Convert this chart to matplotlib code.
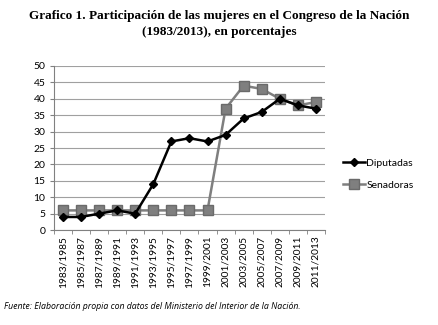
import numpy as np
import matplotlib.pyplot as plt

periodos = ["1983/1985", "1985/1987", "1987/1989", "1989/1991", "1991/1993",
            "1993/1995", "1995/1997", "1997/1999", "1999/2001", "2001/2003",
            "2003/2005", "2005/2007", "2007/2009", "2009/2011", "2011/2013"]
diputadas = [4, 4, 5, 6, 5, 14, 27, 28, 27, 29, 34, 36, 40, 38, 37]
senadoras = [6, 6, 6, 6, 6, 6, 6, 6, 6, 37, 44, 43, 40, 38, 39]

fig = plt.figure(figsize=(4.38, 3.25), dpi=100)
ax = fig.add_axes([0.123, 0.292, 0.619, 0.505])

x = np.arange(len(periodos))
ax.plot(x, diputadas, color="black", lw=1.8, marker="D", ms=4.5, label="Diputadas", zorder=3)
ax.plot(x, senadoras, color="#7f7f7f", lw=1.8, marker="s", ms=6.5,
        mec="#6a6a6a", label="Senadoras", zorder=2)

ax.set_xlim(-0.5, len(periodos) - 0.5)
ax.set_ylim(0, 50)
ax.set_yticks(range(0, 51, 5))
ax.yaxis.grid(True, color="#a0a0a0", lw=0.8)
ax.set_axisbelow(True)

# category labels centred, tick marks between categories
ax.set_xticks(x)
ax.set_xticklabels(periodos, rotation=90, fontsize=7.3, family="Lato")
ax.set_xticks(np.arange(-0.5, len(periodos), 1), minor=True)
ax.tick_params(axis="x", which="major", length=0, pad=4)
ax.tick_params(axis="x", which="minor", length=3, color="#808080")
ax.tick_params(axis="y", length=3, color="#808080", labelsize=7.5, pad=3)
for lbl in ax.get_yticklabels():
    lbl.set_family("Lato")

for s in ["top", "right"]:
    ax.spines[s].set_visible(False)
ax.spines["left"].set_color("#808080")
ax.spines["bottom"].set_color("#808080")

ax.legend(loc="center left", bbox_to_anchor=(1.03, 0.34), frameon=False,
          prop={"family": "Lato", "size": 7.5}, handlelength=2.2, handletextpad=0.1,
          labelspacing=1.2)

fig.text(0.5, 0.952, "Grafico 1. Participación de las mujeres en el Congreso de la Nación",
         ha="center", va="center", family="Liberation Serif", weight="bold", fontsize=9.5)
fig.text(0.5, 0.902, "(1983/2013), en porcentajes",
         ha="center", va="center", family="Liberation Serif", weight="bold", fontsize=9.5)
fig.text(0.01, 0.058, "Fuente: Elaboración propia con datos del Ministerio del Interior de la Nación.",
         ha="left", va="center", family="Open Sans", style="italic", fontsize=6.3)

fig.savefig("out.png", dpi=100)
